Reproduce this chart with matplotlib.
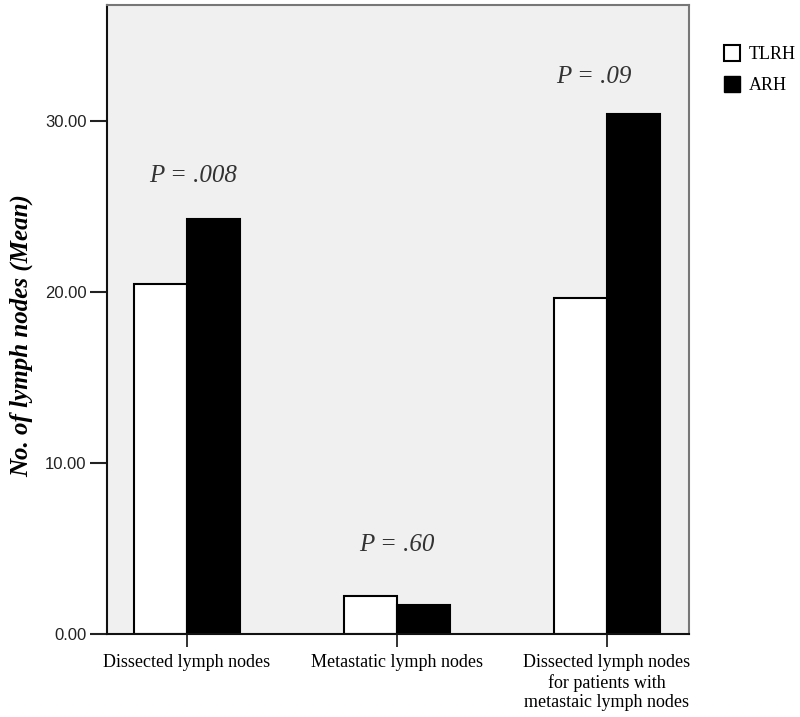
import matplotlib
matplotlib.use('Agg')
from matplotlib import pyplot as plt
from matplotlib.lines import Line2D
import numpy as np

# data
categories = ['Dissected lymph nodes', 'Metastatic lymph nodes',
              'Dissected lymph nodes\nfor patients with\nmetastaic lymph nodes']
tlrh = [20.5, 2.2, 19.65]
arh = [24.3, 1.7, 30.4]
p_labels = ['P = .008', 'P = .60', 'P = .09']
p_pos = [(0.03, 26.8), (0.0, 5.2), (-0.06, 32.6)]
y_ticks = [0, 10, 20, 30]

fig = plt.figure(figsize=(8, 7.17), dpi=100)
ax = fig.add_axes([0.134, 0.1158, 0.727, 0.8772])
ax.set_facecolor('#f0f0f0')

x = np.arange(len(categories))
w = 0.252
ax.bar(x - w / 2, tlrh, w, color='white', edgecolor='black', linewidth=1.5, zorder=2)
ax.bar(x + w / 2, arh, w, color='black', edgecolor='black', linewidth=1.5, zorder=2)

ax.set_xlim(-0.38, 2.39)
ax.set_ylim(0, 36.8)

ax.set_yticks(y_ticks)
ax.set_yticklabels(['%.2f' % v for v in y_ticks], family='Liberation Sans', fontsize=12,
                   color='#222222')
ax.set_xticks(x)
ax.set_xticklabels(categories, family='Liberation Serif', fontsize=13, linespacing=1.2)
ax.tick_params(axis='y', length=12, width=1.5, color='#222222', pad=3)
ax.tick_params(axis='x', length=9.5, width=1.3, color='#222222', pad=5)

for s in ['left', 'bottom']:
    ax.spines[s].set_color('#111111')
    ax.spines[s].set_linewidth(1.5)
for s in ['top', 'right']:
    ax.spines[s].set_color('#777777')
    ax.spines[s].set_linewidth(1.5)

ax.set_ylabel('No. of lymph nodes (Mean)', family='Liberation Serif', fontsize=18,
              style='italic', weight='bold')
ax.yaxis.set_label_coords(-0.128, 0.475)

for i, (lab, (px, py)) in enumerate(zip(p_labels, p_pos)):
    ax.text(x[i] + px, py, lab, ha='center', va='center',
            family='Liberation Serif', style='italic', fontsize=18, color='#333333')

handles = [Line2D([], [], marker='s', linestyle='', markersize=11,
                  markerfacecolor='white', markeredgecolor='black', markeredgewidth=1.5),
           Line2D([], [], marker='s', linestyle='', markersize=11,
                  markerfacecolor='black', markeredgecolor='black')]
fig.legend(handles, ['TLRH', 'ARH'], loc='upper left', bbox_to_anchor=(0.893, 0.948),
           frameon=False, prop={'family': 'Liberation Serif', 'size': 13},
           handletextpad=0.4, labelspacing=0.75, borderpad=0, handlelength=1.0)

fig.savefig('out.png', dpi=100)
